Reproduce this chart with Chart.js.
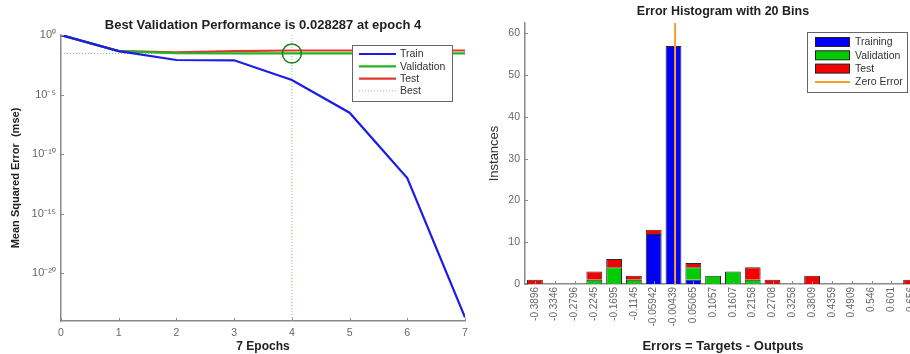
<!DOCTYPE html>
<html>
<head>
<meta charset="utf-8">
<script src="https://cdn.jsdelivr.net/npm/chart.js@4.4.1/dist/chart.umd.min.js"></script>
<style>
  body { margin: 0; background: #fff; overflow: hidden; width: 910px; height: 354px; position: relative; }
  #perf { position: absolute; left: 0; top: 0; }
  #hist { position: absolute; left: 470px; top: 0; }
</style>
</head>
<body>
<canvas id="perf" width="470" height="354"></canvas>
<canvas id="hist" width="460" height="354"></canvas>
<script>
// performance plot data
const epochs = [0, 1, 2, 3, 4, 5, 6, 7];
const trainPerf = [1, 0.045, 0.008, 0.0075, 1.7e-4, 3e-7, 1e-12, 2e-24];
const valPerf = [1, 0.045, 0.03, 0.029, 0.028287, 0.029, 0.029, 0.029];
const testPerf = [1, 0.045, 0.035, 0.045, 0.05, 0.05, 0.05, 0.05];
const bestEpoch = 4;
const bestPerf = 0.028287;
const perfTicks = [1e-20, 1e-15, 1e-10, 1e-5, 1];
const perfMin = 1e-24, perfMax = 1;

// error histogram data
const binLabels = ['-0.3896', '-0.3346', '-0.2796', '-0.2245', '-0.1695', '-0.1145', '-0.05942', '-0.00439',
  '0.05065', '0.1057', '0.1607', '0.2158', '0.2708', '0.3258', '0.3809', '0.4359', '0.4909', '0.546', '0.601', '0.656'];
const trainCounts = [0, 0, 0, 0, 0, 0, 12, 57, 1, 0, 0, 0, 0, 0, 0, 0, 0, 0, 0, 0];
const valCounts   = [0, 0, 0, 1, 4, 1, 0, 0, 3, 2, 3, 1, 0, 0, 0, 0, 0, 0, 0, 0];
const testCounts  = [1, 0, 0, 2, 2, 1, 1, 0, 1, 0, 0, 3, 1, 0, 2, 0, 0, 0, 0, 1];
const histTicks = [0, 10, 20, 30, 40, 50, 60];
const histMax = 62.5;

const FONT = "'Liberation Sans', Arial, sans-serif";
const SUP = { '-': '\u207B', '0': '\u2070', '1': '\u00B9', '2': '\u00B2', '3': '\u00B3', '4': '\u2074', '5': '\u2075', '6': '\u2076', '7': '\u2077', '8': '\u2078', '9': '\u2079' };
const sup = s => String(s).split('').map(c => SUP[c]).join('');

// small inward tick marks, matlab style
const inTicks = {
  id: 'inTicks',
  afterDatasetsDraw(chart, args, opts) {
    const ctx = chart.ctx;
    const { left, bottom } = chart.chartArea;
    const xs = chart.scales.x, ys = chart.scales.y;
    ctx.save();
    ctx.strokeStyle = opts.color || '#888';
    ctx.lineWidth = 1;
    ctx.beginPath();
    xs.ticks.forEach((t, i) => {
      const px = Math.round(xs.getPixelForTick(i)) + 0.5;
      ctx.moveTo(px, bottom);
      ctx.lineTo(px, bottom - 3);
    });
    ys.ticks.forEach((t, i) => {
      const py = Math.round(ys.getPixelForTick(i)) + 0.5;
      ctx.moveTo(left, py);
      ctx.lineTo(left + 3, py);
    });
    ctx.stroke();
    ctx.restore();
  }
};

// boxed legend placed inside the plot
const boxLegend = {
  id: 'boxLegend',
  afterDraw(chart, args, o) {
    const ctx = chart.ctx;
    const items = chart.data.datasets.filter(d => d.label);
    ctx.save();
    ctx.fillStyle = '#fff';
    ctx.fillRect(o.x, o.y, o.w, o.h);
    ctx.strokeStyle = '#666';
    ctx.lineWidth = 1;
    ctx.strokeRect(o.x + 0.5, o.y + 0.5, o.w, o.h);
    ctx.font = o.font;
    ctx.textBaseline = 'middle';
    items.forEach((d, i) => {
      const cy = o.y + o.first + i * o.step;
      const x0 = o.x + o.sampleX, x1 = x0 + o.sampleW;
      if (d.type === 'bar' || !d.type && chart.config.type === 'bar') {
        ctx.fillStyle = d.backgroundColor;
        ctx.fillRect(x0, cy - 4.5, o.sampleW, 9);
        ctx.strokeStyle = '#222';
        ctx.strokeRect(x0 + 0.5, cy - 4.5, o.sampleW - 1, 9);
      } else {
        ctx.strokeStyle = d.borderColor;
        ctx.lineWidth = d.borderWidth;
        ctx.setLineDash(d.borderDash || []);
        ctx.beginPath();
        ctx.moveTo(x0, cy);
        ctx.lineTo(x1, cy);
        ctx.stroke();
        ctx.setLineDash([]);
      }
      ctx.fillStyle = '#333';
      ctx.fillText(d.label, o.x + o.textX, cy + 0.5);
    });
    ctx.restore();
  }
};

const pts = ys => epochs.map((e, i) => ({ x: e, y: ys[i] }));

new Chart(document.getElementById('perf'), {
  type: 'line',
  data: {
    datasets: [
      { label: 'Train', data: pts(trainPerf), borderColor: '#1c1ce8', borderWidth: 2.2, order: 1 },
      { label: 'Validation', data: pts(valPerf), borderColor: '#22b422', borderWidth: 2.2, order: 1 },
      { label: 'Test', data: pts(testPerf), borderColor: '#e0392e', borderWidth: 2.2, order: 1 },
      { label: 'Best', data: [{ x: bestEpoch, y: perfMin }, { x: bestEpoch, y: perfMax }],
        borderColor: '#7cc47c', borderWidth: 1, borderDash: [1, 2], order: 3 },
      { label: '', data: [{ x: 0, y: bestPerf }, { x: 7, y: bestPerf }],
        borderColor: '#7cc47c', borderWidth: 1, borderDash: [1, 2], order: 3 },
      { label: '', data: [{ x: bestEpoch, y: bestPerf }], showLine: false,
        pointRadius: 9.5, pointBorderWidth: 1.5, pointBorderColor: '#1d7d1d',
        pointBackgroundColor: 'rgba(0,0,0,0)', order: 0 }
    ]
  },
  options: {
    responsive: false,
    animation: false,
    events: [],
    elements: { line: { tension: 0 }, point: { radius: 0 } },
    layout: { autoPadding: false, padding: { top: 0, right: 5, bottom: 0, left: 0 } },
    scales: {
      x: {
        type: 'linear', min: 0, max: 7,
        grid: { display: false, drawTicks: false },
        border: { display: true, color: '#8a8a8a', width: 1.5 },
        ticks: { stepSize: 1, padding: 6, color: '#666', font: { family: FONT, size: 10.5 } },
        title: { display: true, text: '7 Epochs', color: '#222', padding: { top: 0, bottom: 0 },
          font: { family: FONT, size: 12, weight: 'bold' } },
        afterFit: s => { s.height = 33; s.paddingLeft = 0; s.paddingRight = 3; }
      },
      y: {
        type: 'logarithmic', min: perfMin, max: perfMax,
        grid: { display: false, drawTicks: false },
        border: { display: true, color: '#8a8a8a', width: 1.5 },
        ticks: { padding: 5, color: '#666', font: { family: FONT, size: 11 },
          callback: v => '10' + sup(Math.round(Math.log10(v))) },
        afterBuildTicks: s => { s.ticks = perfTicks.map(v => ({ value: v })); },
        title: { display: true, text: 'Mean Squared Error  (mse)', color: '#222', padding: { top: 9, bottom: 0 },
          font: { family: FONT, size: 11, weight: 'bold' } },
        afterFit: s => { s.width = 61; }
      }
    },
    plugins: {
      legend: { display: false },
      tooltip: { enabled: false },
      title: { display: true, fullSize: false, text: 'Best Validation Performance is 0.028287 at epoch 4',
        color: '#222', padding: { top: 18, bottom: 1.4 }, font: { family: FONT, size: 13, weight: 'bold' } },
      inTicks: { color: '#8a8a8a' },
      boxLegend: { x: 352, y: 45, w: 100, h: 56, first: 9, step: 12.3, sampleX: 7, sampleW: 37, textX: 48,
        font: '10.5px ' + FONT }
    }
  },
  plugins: [inTicks, boxLegend]
});

const binCenters = binLabels.map(Number);
const binWidth = (binCenters[binCenters.length - 1] - binCenters[0]) / (binCenters.length - 1);

new Chart(document.getElementById('hist'), {
  type: 'bar',
  data: {
    labels: binLabels,
    datasets: [
      { label: 'Training', data: trainCounts, backgroundColor: '#0000f5', order: 1 },
      { label: 'Validation', data: valCounts, backgroundColor: '#00cc00', order: 1 },
      { label: 'Test', data: testCounts, backgroundColor: '#f50000', order: 1 },
      { label: 'Zero Error', type: 'line', xAxisID: 'xz', data: [{ x: 0, y: 0 }, { x: 0, y: histMax }],
        borderColor: '#f5a028', borderWidth: 2, pointRadius: 0, order: 0 }
    ]
  },
  options: {
    responsive: false,
    animation: false,
    events: [],
    datasets: { bar: { borderColor: '#2a2a2a', borderWidth: 1, barPercentage: 0.8, categoryPercentage: 1, grouped: false } },
    layout: { autoPadding: false, padding: { top: 0, right: 9, bottom: 0, left: 0 } },
    scales: {
      x: {
        stacked: true,
        grid: { display: false, drawTicks: false },
        border: { display: true, color: '#8a8a8a', width: 1.5 },
        ticks: { autoSkip: false, minRotation: 90, maxRotation: 90, padding: 3, color: '#666',
          font: { family: FONT, size: 10 } },
        title: { display: true, text: 'Errors = Targets - Outputs', color: '#222', padding: { top: 2, bottom: 0 },
          font: { family: FONT, size: 13, weight: 'bold' } },
        afterFit: s => { s.height = 70; s.paddingLeft = 0; s.paddingRight = 0; }
      },
      xz: {
        type: 'linear', display: false, offset: false, grid: { offset: false },
        min: binCenters[0] - binWidth / 2,
        max: binCenters[binCenters.length - 1] + binWidth / 2
      },
      y: {
        stacked: true, min: 0, max: histMax,
        grid: { display: false, drawTicks: false },
        border: { display: true, color: '#8a8a8a', width: 1.5 },
        ticks: { padding: 5, color: '#666', font: { family: FONT, size: 10.5 } },
        afterBuildTicks: s => { s.ticks = histTicks.map(v => ({ value: v })); },
        title: { display: true, text: 'Instances', color: '#333', padding: { top: 17, bottom: 0 },
          font: { family: FONT, size: 13 } },
        afterFit: s => { s.width = 55; }
      }
    },
    plugins: {
      legend: { display: false },
      tooltip: { enabled: false },
      title: { display: true, fullSize: false, text: 'Error Histogram with 20 Bins',
        color: '#222', padding: { top: 4.5, bottom: 3.5 }, font: { family: FONT, size: 12.5, weight: 'bold' } },
      inTicks: { color: '#8a8a8a' },
      boxLegend: { x: 337, y: 32, w: 100, h: 60, first: 10, step: 13.3, sampleX: 8, sampleW: 35, textX: 48,
        font: '10.5px ' + FONT }
    }
  },
  plugins: [inTicks, boxLegend]
});
</script>
</body>
</html>
